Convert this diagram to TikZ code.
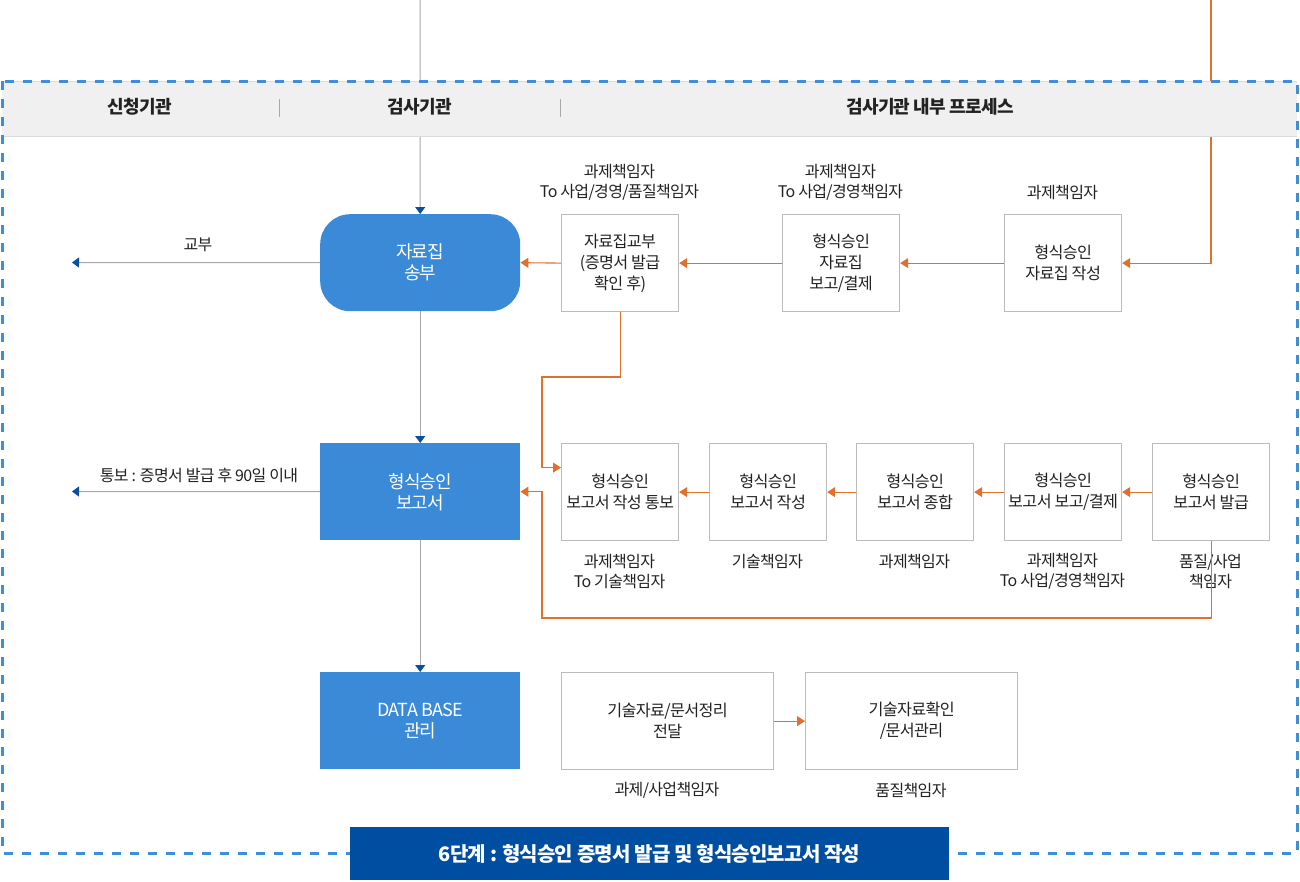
\documentclass[tikz,border=0pt]{standalone}
\usepackage{fontspec}
\setmainfont[LetterSpace=-4]{Noto Sans CJK KR}
\usetikzlibrary{arrows.meta}
\definecolor{mblue}{HTML}{3A8AD8}
\definecolor{dblue}{HTML}{0B4EA2}
\definecolor{tblue}{HTML}{004EA2}
\definecolor{bdash}{HTML}{3C8FDD}
\definecolor{orng}{HTML}{E0702C}
\definecolor{lgray}{HTML}{A8A8A8}
\definecolor{bgray}{HTML}{BBBBBB}
\definecolor{hgray}{HTML}{F0F0F0}
\definecolor{hline}{HTML}{DCDCDC}
\definecolor{txt}{HTML}{222222}
\newcommand\fsz[2]{\fontsize{#1}{#2}\selectfont}
\begin{document}
\begin{tikzpicture}[x=1pt,y=-1pt,
  wbox/.style={draw=bgray, line width=1.2pt, fill=white, inner sep=0pt, minimum width=117, minimum height=97, align=center, text=txt, font=\fsz{16.2}{21}},
  widebox/.style={wbox, minimum width=212},
  bbox/.style={fill=mblue, inner sep=0pt, minimum width=200, minimum height=97, align=center, text=white, font=\fsz{18}{21}},
  lbl/.style={align=center, text=txt, font=\fsz{16}{20}, inner sep=0pt},
  hdr/.style={text=txt, font=\fsz{18}{20}\bfseries, inner sep=0pt},
  gline/.style={draw=lgray, line width=1pt},
  garrow/.style={gline, -{Triangle[width=10pt,length=7pt,color=dblue]}},
  oarrow/.style={draw=orng, line width=1.1pt, -{Triangle[width=10pt,length=8pt]}},
]
\useasboundingbox (0,0) rectangle (1300,881);
% free ends
\coordinate (topg) at (420,0);
\coordinate (topo) at (1211,0);
\coordinate (outA) at (72,262.5);
\coordinate (outB) at (72,491.5);
% row 1
\node[bbox, rounded corners=30pt, anchor=north west] (send) at (320,214) {자료집\\송부};
\node[wbox, anchor=north west] (give) at (561,214) {자료집교부\\(증명서 발급\\확인 후)};
\node[wbox, anchor=north west] (rep) at (782,214) {형식승인\\자료집\\보고/결제};
\node[wbox, anchor=north west] (mk) at (1004,214) {형식승인\\자료집 작성};
\node[lbl] (lg) at (619.5,182) {과제책임자\\To 사업/경영/품질책임자};
\node[lbl] (lr) at (840.5,182) {과제책임자\\To 사업/경영책임자};
\node[lbl] (lm) at (1062.5,193) {과제책임자};
\node[lbl] (lsend) at (198,245) {교부};
% row 2
\node[bbox, anchor=north west] (rpt) at (320,443) {형식승인\\보고서};
\node[wbox, anchor=north west] (ra) at (561,443) {형식승인\\보고서 작성 통보};
\node[wbox, anchor=north west] (rb) at (709,443) {형식승인\\보고서 작성};
\node[wbox, anchor=north west] (rc) at (856,443) {형식승인\\보고서 종합};
\node[wbox, anchor=north west] (rd) at (1004,443) {형식승인\\보고서 보고/결제};
\node[wbox, anchor=north west] (re) at (1152,443) {형식승인\\보고서 발급};
\node[lbl] (la) at (619.5,571) {과제책임자\\To 기술책임자};
\node[lbl] (lb) at (767.5,561) {기술책임자};
\node[lbl] (lc) at (914.5,561) {과제책임자};
\node[lbl] (ld) at (1062.5,571) {과제책임자\\To 사업/경영책임자};
\node[lbl] (le) at (1210.5,571) {품질/사업\\책임자};
\node[lbl] (lrpt) at (199,475) {통보 : 증명서 발급 후 90일 이내};
% row 3
\node[bbox, anchor=north west] (db) at (320,672) {DATA BASE\\관리};
\node[widebox, anchor=north west] (t1) at (561,672) {기술자료/문서정리\\전달};
\node[widebox, anchor=north west] (t2) at (805,672) {기술자료확인\\/문서관리};
\node[lbl] (lt1) at (667,790) {과제/사업책임자};
\node[lbl] (lt2) at (911,790) {품질책임자};
% connectors entering from the top (under the header band)
\draw[garrow] (topg) -- (send.north);
\draw[oarrow] (topo) |- (mk.east);
% header band
\fill[hgray] (2,81) rectangle (1297,136);
\draw[hline, line width=1pt] (2,81) -- (1297,81);
\draw[hline, line width=1pt] (2,136) -- (1297,136);
\draw[gline] (279,99) -- (279,117);
\draw[gline] (560,99) -- (560,117);
\node[hdr] (h1) at (140,107) {신청기관};
\node[hdr] (h2) at (420,107) {검사기관};
\node[hdr] (h3) at (930,107) {검사기관 내부 프로세스};
% row 1 connectors
\draw[oarrow] (mk.west) -- (rep.east);
\draw[oarrow] (rep.west) -- (give.east);
\draw[oarrow] (give.west) -- (send.east);
\draw[garrow] (send.west) -- (outA);
\draw[garrow] (send.south) -- (rpt.north);
\draw[oarrow] (give.south) |- (542,377) |- ([yshift=24.5pt]ra.west);
% row 2 connectors
\draw[oarrow] (re.west) -- (rd.east);
\draw[oarrow] (rd.west) -- (rc.east);
\draw[oarrow] (rc.west) -- (rb.east);
\draw[oarrow] (rb.west) -- (ra.east);
\draw[oarrow] (re.south) |- (542,618) |- (rpt.east);
\draw[garrow] (rpt.west) -- (outB);
\draw[garrow] (rpt.south) -- (db.north);
% row 3 connectors
\draw[oarrow] (t1.east) -- (t2.west);
% dashed frame
\draw[bdash, line width=3pt, dash pattern=on 9pt off 9pt] (2,81) rectangle (1297,853);
% title
\node[fill=tblue, minimum width=599, minimum height=53, inner sep=0pt, text=white, font=\fsz{20}{22}\bfseries] (title) at (649.5,853.5) {6단계 : 형식승인 증명서 발급 및 형식승인보고서 작성};
\end{tikzpicture}
\end{document}
